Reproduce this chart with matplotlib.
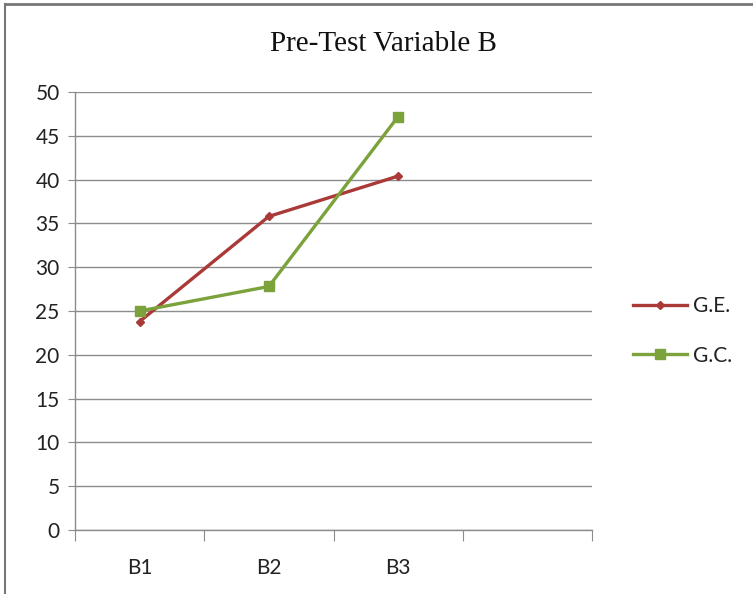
import matplotlib.pyplot as plt
from matplotlib.lines import Line2D
import numpy as np

categories = ["B1", "B2", "B3"]
n_slots = 4  # the category axis has one empty slot after B3
ge_values = [23.8, 35.8, 40.4]
gc_values = [25.0, 27.8, 47.2]
y_ticks = [0, 5, 10, 15, 20, 25, 30, 35, 40, 45, 50]

GE_COLOUR = "#A93A37"
GC_COLOUR = "#7BA23B"
GRID_COLOUR = "#8C8C8C"

W, H = 753, 594
fig = plt.figure(figsize=(W / 100, H / 100), dpi=100)
ax = fig.add_axes([75 / W, 1 - 530 / H, (592 - 75) / W, (530 - 92) / H])

x = np.arange(len(categories)) + 0.5
ax.plot(x, ge_values, color=GE_COLOUR, linewidth=2.4, marker="D", markersize=4.5,
        label="G.E.", zorder=3)
ax.plot(x, gc_values, color=GC_COLOUR, linewidth=2.4, marker="s", markersize=6.5,
        label="G.C.", zorder=3)

ax.set_xlim(0, n_slots)
ax.set_ylim(0, 50)
ax.set_yticks(y_ticks)
ax.set_xticks(np.arange(n_slots + 1))
ax.set_xticklabels([])
ax.set_xticks(x, minor=True)
ax.set_xticklabels(categories, minor=True)

ax.yaxis.grid(True, color=GRID_COLOUR, linewidth=1.0)
ax.set_axisbelow(True)
for side in ["top", "right"]:
    ax.spines[side].set_visible(False)
for side in ["left", "bottom"]:
    ax.spines[side].set_color(GRID_COLOUR)
    ax.spines[side].set_linewidth(1.0)

ax.tick_params(axis="y", which="major", length=5, color=GRID_COLOUR, pad=6,
               labelsize=15, labelcolor="#222222")
ax.tick_params(axis="x", which="major", length=8, color=GRID_COLOUR)
ax.tick_params(axis="x", which="minor", length=0, pad=20, labelsize=15,
               labelcolor="#222222")
for lbl in ax.get_yticklabels() + ax.get_xticklabels(minor=True):
    lbl.set_family("Lato")

fig.text(383 / W, 1 - 44 / H, "Pre-Test Variable B", ha="center", va="center",
         fontsize=21, family="Liberation Serif", color="#111111")

leg = fig.legend(loc="center left", bbox_to_anchor=(614 / W, 1 - 331 / H),
                 frameon=False, handlelength=2.6, handletextpad=0.3,
                 labelspacing=1.4, prop={"family": "Lato", "size": 15})
for t in leg.get_texts():
    t.set_color("#222222")

# figure border at top and left
fig.add_artist(Line2D([5 / W, 5 / W], [0, 1 - 4 / H], color="#777777", linewidth=1.5,
                      transform=fig.transFigure))
fig.add_artist(Line2D([5 / W, 1], [1 - 4 / H, 1 - 4 / H], color="#777777", linewidth=2,
                      transform=fig.transFigure))

fig.savefig("out.png", dpi=100)
